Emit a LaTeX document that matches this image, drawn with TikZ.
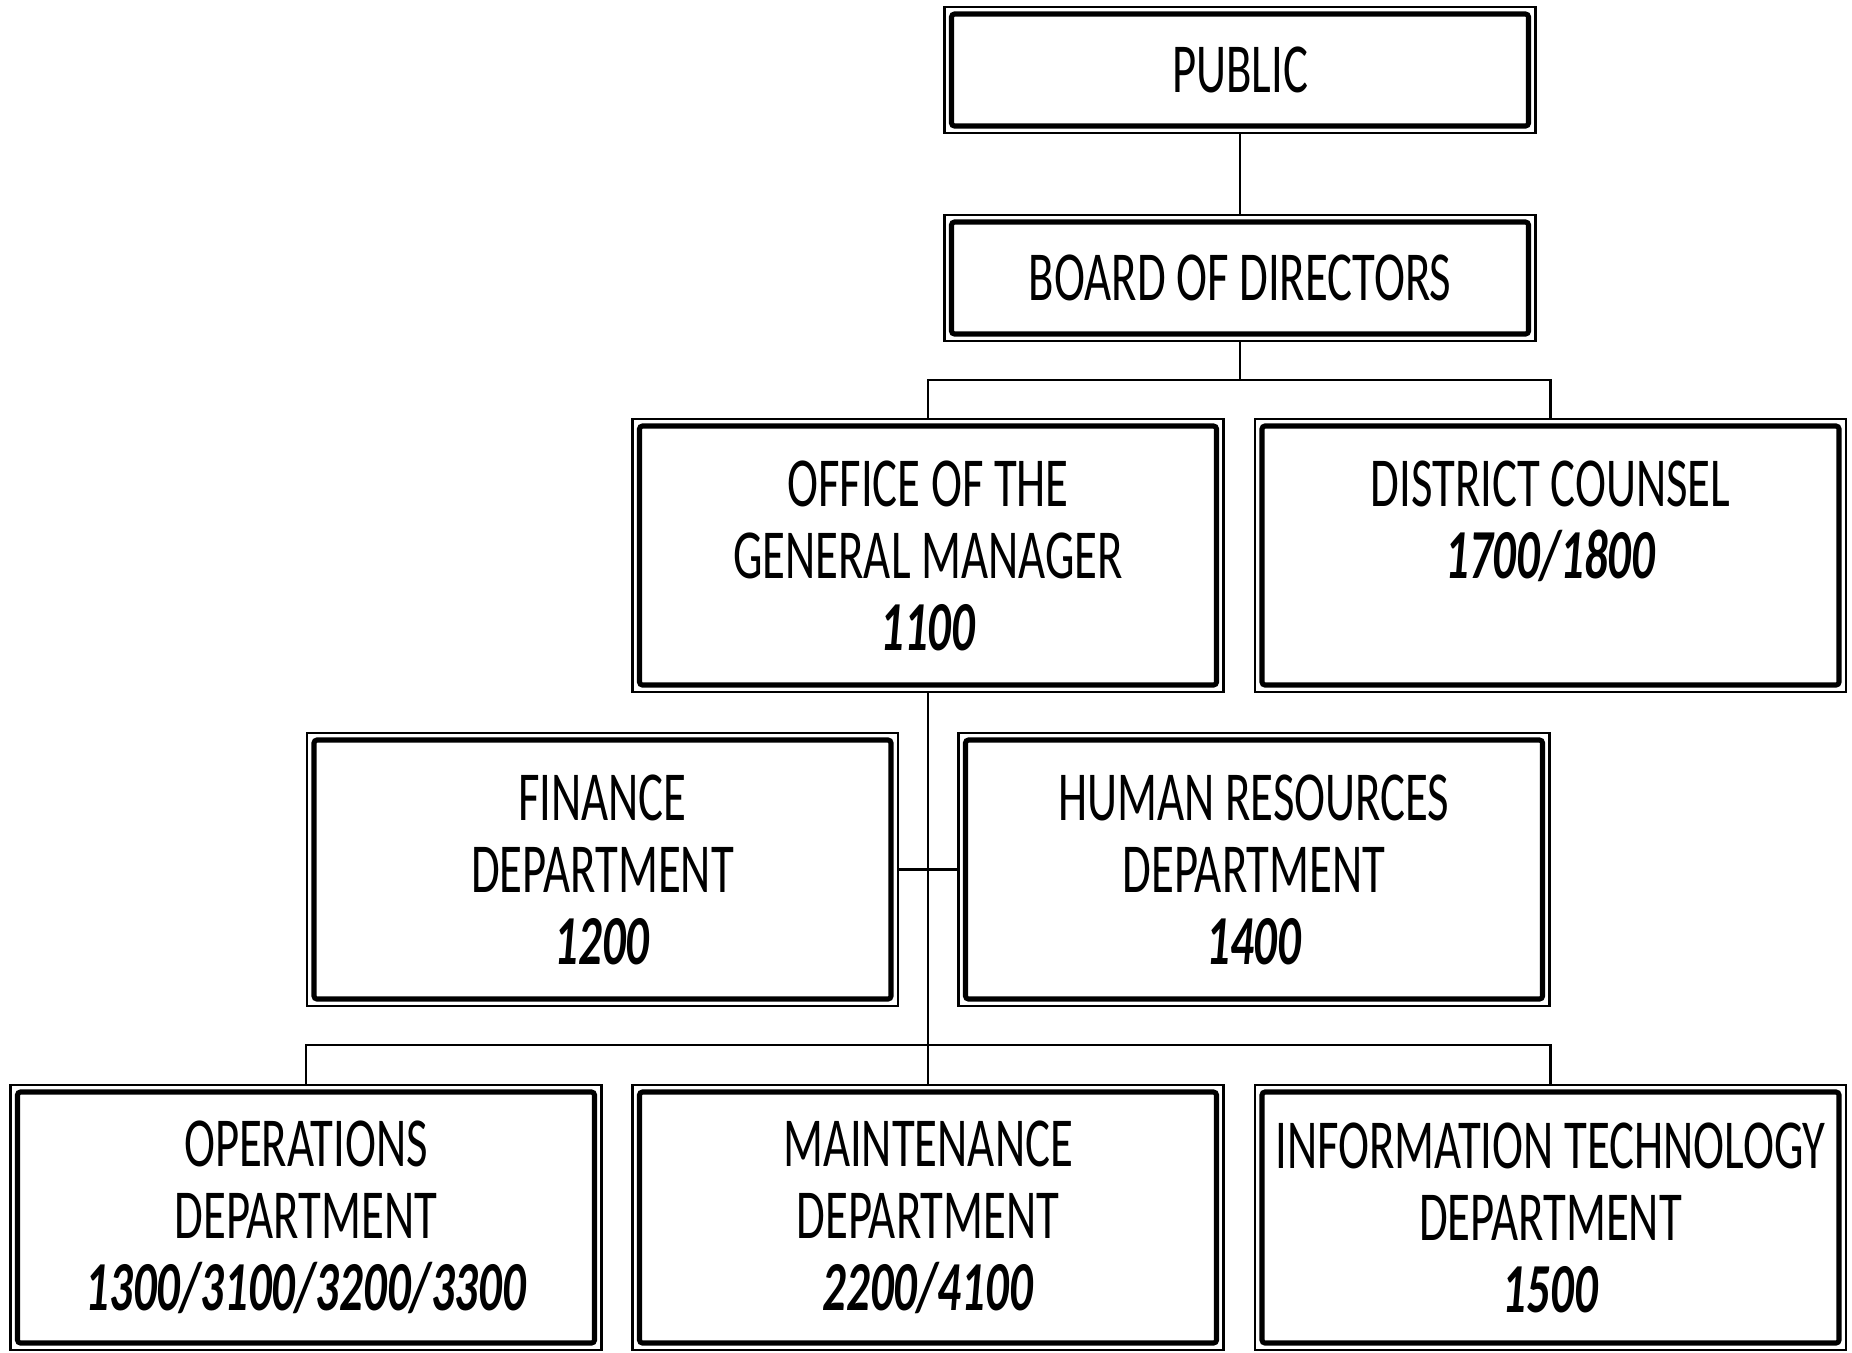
\documentclass[tikz,border=0pt]{standalone}
\usepackage{fontspec}
\setmainfont{Carlito}[FakeStretch=0.665]
\usetikzlibrary{calc, positioning}
\tikzset{
  unit/.style={
    rectangle, draw=black, fill=white, line width=0.65pt,
    minimum width=59.1mm, minimum height=#1, inner sep=0pt,
    font=\fontsize{20}{20.5}\selectfont, align=center,
    path picture={
      \draw[line width=1.45pt, rounded corners=0.3mm]
        ([shift={(0.7mm,0.7mm)}]path picture bounding box.south west)
        rectangle ([shift={(-0.7mm,-0.7mm)}]path picture bounding box.north east);
    },
  },
  link/.style={line width=0.65pt, draw=black},
}
\newcommand{\code}[1]{\textbf{\textit{#1}}}

\begin{document}
\begin{tikzpicture}[x=0.1mm,y=-0.1mm]
    \useasboundingbox (0,0) rectangle (1852,1352);
    \node[unit=12.6mm] (public) at (1240,70)    {PUBLIC};
    \node[unit=12.6mm] (board)  at (1240,278)   {BOARD OF DIRECTORS};
    \node[unit=27.3mm] (ogm)    at (928,555.5)  {OFFICE OF THE\\GENERAL MANAGER\\\code{1100}};
    \node[unit=27.3mm] (dc)     at (1550.5,555.5) {DISTRICT COUNSEL\\\code{1700/1800}\\~};
    \node[unit=27.3mm] (fin)    at (602.5,869.5) {FINANCE\\DEPARTMENT\\\code{1200}};
    \node[unit=27.3mm] (hr)     at (1254,869.5) {HUMAN RESOURCES\\DEPARTMENT\\\code{1400}};
    \node[unit=26.5mm] (ops)    at (306,1217.5) {OPERATIONS\\DEPARTMENT\\\code{1300/3100/3200/3300}};
    \node[unit=26.5mm] (maint)  at (928,1217.5) {MAINTENANCE\\DEPARTMENT\\\code{2200/4100}};
    \node[unit=26.5mm] (it)     at (1550.5,1217.5) {INFORMATION TECHNOLOGY\\DEPARTMENT\\\code{1500}};
    \coordinate (topbus) at (1240,380);
    \coordinate (lowbus) at (928,1045);
    \draw[link] (public) -- (board); \draw[link] (board) -- (topbus);
    \draw[link] (ogm.north) -- (ogm.north |- topbus) -- (dc.north |- topbus) -- (dc.north);
    \draw[link] (ogm.south) -- (maint.north);
    \draw[link] (fin.east) -- (hr.west);
    \draw[link] (ops.north) -- (ops.north |- lowbus) -- (it.north |- lowbus) -- (it.north);
  \end{tikzpicture}
\end{document}
